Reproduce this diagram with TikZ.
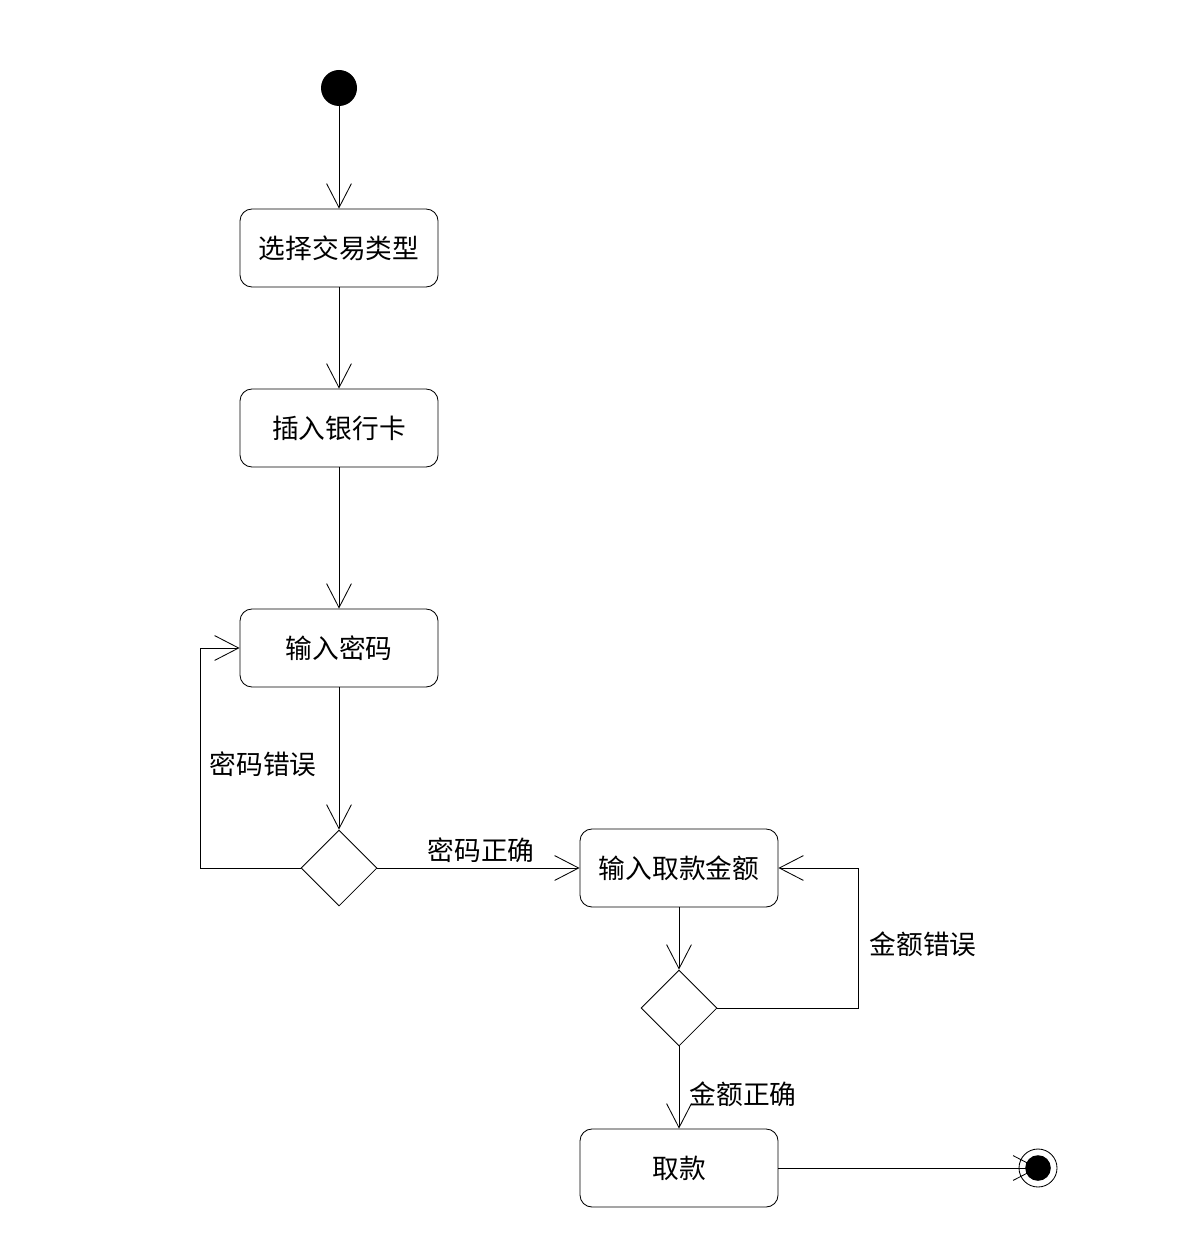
\documentclass[tikz,border=0pt]{standalone}
\usepackage{fontspec}
\newfontfamily\cjk{Noto Sans CJK SC}
\usetikzlibrary{arrows.meta, shapes.geometric}

\begin{document}
\begin{tikzpicture}[
    x=0.025cm, y=-0.025cm,
    every node/.style={font=\cjk\fontsize{19}{23}\selectfont},
    activity/.style={rectangle, draw=black, line width=0.6pt, rounded corners=0.3cm, minimum width=4.95cm, minimum height=1.95cm, inner sep=0pt},
    decision/.style={diamond, draw=black, line width=0.6pt, minimum width=1.9cm, minimum height=1.9cm, inner sep=0pt},
    initial/.style={circle, fill=black, minimum size=0.9cm, inner sep=0pt},
    final/.style={circle, draw=black, line width=0.6pt, minimum size=0.95cm, inner sep=0pt},
    arrow/.style={-{Straight Barb[length=0.6cm, width=0.62cm]}, line width=0.6pt}
]
    \useasboundingbox (0,0) rectangle (1199,1253);

    % --- Nodes ---
    \node[initial] (start) at (339, 88) {};
    \node[activity] (choose) at (339, 248) {选择交易类型};
    \node[activity] (insert) at (339, 428) {插入银行卡};
    \node[activity] (pwd) at (339, 648) {输入密码};
    \node[decision] (check1) at (339, 868) {};
    \node[activity] (amount) at (679, 868) {输入取款金额};
    \node[decision] (check2) at (679, 1008) {};
    \node[activity] (withdraw) at (679, 1168) {取款};
    \node[final] (stop) at (1038, 1168) {};

    % --- Main flow ---
    \draw[arrow] (start) -- (choose);
    \draw[arrow] (choose) -- (insert);
    \draw[arrow] (insert) -- (pwd);
    \draw[arrow] (pwd) -- (check1);
    \draw[arrow] (amount) -- (check2);
    \draw[arrow] (withdraw.east) -- (stop.center);
    \fill (stop.center) circle (0.32cm);

    % password check
    \draw[arrow] (check1.west) -- (200, 868) -- (200, 648) -- (pwd.west);
    \node (pwdwrong) at (263, 764) {密码错误};
    \draw[arrow] (check1.east) -- (amount.west);
    \node (pwdright) at (481, 850) {密码正确};

    % amount check
    \draw[arrow] (check2.east) -- (858, 1008) -- (858, 868) -- (amount.east);
    \node (amtwrong) at (923, 944) {金额错误};
    \draw[arrow] (check2.south) -- (withdraw.north);
    \node (amtright) at (743, 1094) {金额正确};

\end{tikzpicture}
\end{document}
